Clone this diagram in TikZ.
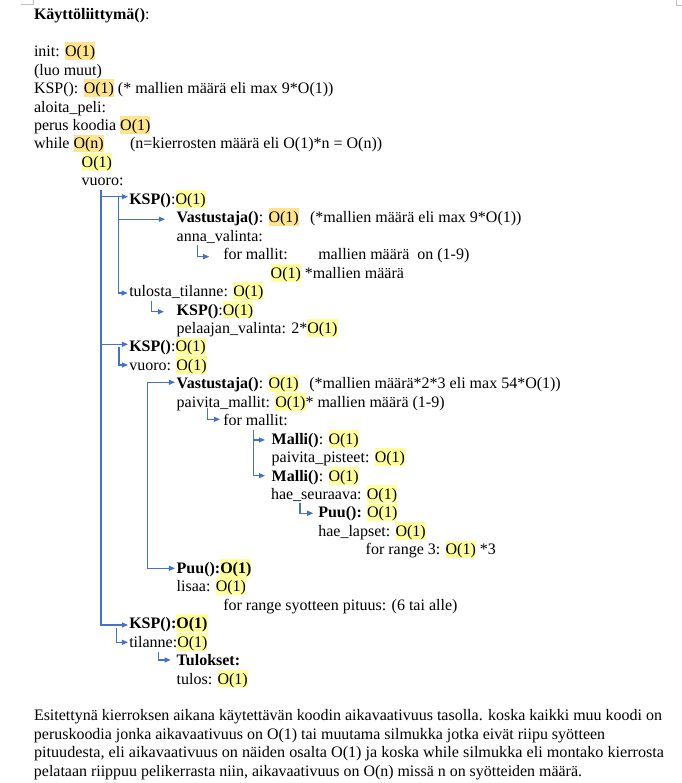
\documentclass[tikz,border=0pt]{standalone}
\usepackage{fontspec}
\setmainfont{Liberation Serif}
\usepackage{graphicx}
\usetikzlibrary{arrows.meta,calc}

\definecolor{conn}{HTML}{4472C4}
\definecolor{hlgold}{HTML}{FFE48F}
\definecolor{hlyel}{HTML}{FFFF9E}
\definecolor{pagemark}{HTML}{C0C0C0}

% highlighted run of text (line-high marker box)
\newcommand\hy[1]{{\setlength{\fboxsep}{0pt}\colorbox{hlyel}{\rule[-2.6pt]{0pt}{13.3pt}#1}}}
\newcommand\hg[1]{{\setlength{\fboxsep}{0pt}\colorbox{hlgold}{\rule[-2.6pt]{0pt}{13.3pt}#1}}}
% paragraph line squeezed to a given width
\newcommand\fitw[2]{\resizebox{#1}{\height}{#2}}

\tikzset{
  txt/.style={anchor=base west, inner sep=0pt, outer sep=0pt,
    font=\fontsize{12pt}{13.8pt}\selectfont},
  arr/.style={draw=conn, line width=0.9pt,
    -{Triangle[length=4.6pt,width=3.8pt]}},
  cornermark/.style={draw=pagemark, line width=0.6pt}
}

\begin{document}
\begin{tikzpicture}[x=0.75pt,y=-0.75pt]
\useasboundingbox (0,0) rectangle (682,783);
\fill[white] (0,0) rectangle (682,783);

% page corner marks
\draw[cornermark] (20.5,4.8) -- (33.3,4.8) -- (33.3,0);
\draw[cornermark] (676,0) -- (676,5.2) -- (682,5.2);

% heading and top-level lines
\node[txt] (title) at (34,19.8) {\textbf{Käyttöliittymä()}:};
\node[txt] (init)  at (34,56.7)  {init: \hg{O(1)}};
\node[txt] (luo)   at (34,75.15) {(luo muut)};
\node[txt] (ksp0)  at (34,93.6)  {KSP(): \hg{O(1)} (* mallien määrä eli max 9*O(1))};
\node[txt] (aloita) at (34,112.05) {aloita\_peli:};
\node[txt] (perus) at (34,130.5) {perus koodia \hg{O(1)}};
\node[txt] (while) at (34,148.95) {while \hg{O(n)}};
\node[txt] (whilec) at (130,148.95) {(n=kierrosten määrä eli O(1)*n = O(n))};
\node[txt] (wo1)   at (81.7,167.4) {\hy{O(1)}};
\node[txt] (vuoro) at (81.7,185.85) {vuoro:};

% first turn block
\node[txt] (ksp1)  at (129.3,204.3) {\textbf{KSP()}:\hy{O(1)}};
\node[txt] (vast1) at (176.7,222.75) {\textbf{Vastustaja()}: \hg{O(1)}};
\node[txt] (vast1c) at (310,222.75) {(*mallien määrä eli max 9*O(1))};
\node[txt] (anna)  at (176.7,241.2) {anna\_valinta:};
\node[txt] (for1)  at (223.3,259.65) {for mallit:};
\node[txt] (for1c) at (318.3,259.65) {mallien määrä\ \ on (1-9)};
\node[txt] (for1o) at (270.7,278.1) {\hy{O(1)} *mallien määrä};
\node[txt] (tul)   at (129.3,296.55) {tulosta\_tilanne: \hy{O(1)}};
\node[txt] (ksp2)  at (176.7,315) {\textbf{KSP()}:\hy{O(1)}};
\node[txt] (pel)   at (176.7,333.45) {pelaajan\_valinta: 2*\hy{O(1)}};

% second turn block
\node[txt] (ksp3)  at (129.3,351.9) {\textbf{KSP()}:\hy{O(1)}};
\node[txt] (vuoro2) at (129.3,370.35) {vuoro: \hy{O(1)}};
\node[txt] (vast2) at (176.7,388.8) {\textbf{Vastustaja()}: \hy{O(1)}};
\node[txt] (vast2c) at (309.3,388.8) {(*mallien määrä*2*3 eli max 54*O(1))};
\node[txt] (paiv)  at (176.7,407.25) {paivita\_mallit: \hy{O(1)}* mallien määrä (1-9)};
\node[txt] (for2)  at (223.3,425.7) {for mallit:};
\node[txt] (malli1) at (271.7,444.15) {\textbf{Malli()}: \hy{O(1)}};
\node[txt] (pist)  at (271.7,462.6) {paivita\_pisteet: \hy{O(1)}};
\node[txt] (malli2) at (271.7,481.05) {\textbf{Malli()}: \hy{O(1)}};
\node[txt] (hae)   at (271,499.5) {hae\_seuraava: \hy{O(1)}};
\node[txt] (puu1)  at (318.3,517.95) {\textbf{Puu():} \hy{O(1)}};
\node[txt] (lap)   at (318.3,536.4) {hae\_lapset: \hy{O(1)}};
\node[txt] (rng3)  at (365.7,554.85) {for range 3: \hy{O(1)} *3};
\node[txt] (puu2)  at (176.7,573.3) {\textbf{Puu():\hy{O(1)}}};
\node[txt] (lisaa) at (176.7,591.75) {lisaa: \hy{O(1)}};
\node[txt] (rngs)  at (223.3,610.2) {for range syotteen pituus: (6 tai alle)};

% result block
\node[txt] (ksp4)  at (129.3,628.65) {\textbf{KSP():\hy{O(1)}}};
\node[txt] (tila)  at (129.3,647.1) {tilanne:\hy{O(1)}};
\node[txt] (tuloks) at (176.7,665.55) {\textbf{Tulokset:}};
\node[txt] (tulos) at (176.7,684) {tulos: \hy{O(1)}};

% closing paragraph
\node[txt] (p1) at (34,720.9)  {\fitw{471pt}{Esitettynä kierroksen aikana käytettävän koodin aikavaativuus tasolla. koska kaikki muu koodi on}};
\node[txt] (p2) at (34,739.35) {\fitw{428.3pt}{peruskoodia jonka aikavaativuus on O(1) tai muutama silmukka jotka eivät riipu syötteen}};
\node[txt] (p3) at (34,757.8)  {\fitw{472.5pt}{pituudesta, eli aikavaativuus on näiden osalta O(1) ja koska while silmukka eli montako kierrosta}};
\node[txt] (p4) at (34,776.25) {\fitw{411pt}{pelataan riippuu pelikerrasta niin, aikavaativuus on O(n) missä n on syötteiden määrä.}};

% connector trunks
\coordinate (t1) at (101,190);
\coordinate (t2) at (118.3,196.7);
\coordinate (t3) at (147.7,382.3);
\coordinate (t4) at (253.3,430);

\draw[arr] (t1) |- ($(ksp1.base west)+(-1.3,-7.6)$);
\draw[arr] (t1) |- ($(ksp3.base west)+(-1.3,-7.6)$);
\draw[arr] (t1) |- ($(ksp4.base west)+(-1.3,-3.7)$);

\draw[arr] (t2) |- ($(vast1.base west)+(-11.7,-3.5)$);
\draw[arr] (t2) |- ($(tul.base west)+(-1.6,-3.5)$);

\draw[arr] (t3) |- ($(vast2.base west)+(-1.7,-6.5)$);
\draw[arr] (t3) |- ($(puu2.base west)+(-1.7,-5)$);

\draw[arr] (t4) |- ($(malli1.base west)+(-6.7,-4.2)$);
\draw[arr] (t4) |- ($(malli2.base west)+(-6.7,-5.4)$);

% short corner connectors
\coordinate (c1) at (197.3,245);
\coordinate (c2) at (151.7,300.7);
\coordinate (c3) at (119,346.7);
\coordinate (c4) at (207.7,408.3);
\coordinate (c5) at (300,503.3);
\coordinate (c6) at (116.7,628);
\coordinate (c7) at (158.3,651.7);

\draw[arr] (c1) |- ($(for1.base west)+(-14,-3)$);
\draw[arr] (c2) |- ($(ksp2.base west)+(-12.7,-3.3)$);
\draw[arr] (c3) |- ($(vuoro2.base west)+(-1.3,-5.4)$);
\draw[arr] (c4) |- ($(for2.base west)+(-3.3,-6.4)$);
\draw[arr] (c5) |- ($(puu1.base west)+(-5,-4.7)$);
\draw[arr] (c6) |- ($(tila.base west)+(-1.3,-4.8)$);
\draw[arr] (c7) |- ($(tuloks.base west)+(-6,-5.6)$);
\end{tikzpicture}
\end{document}
